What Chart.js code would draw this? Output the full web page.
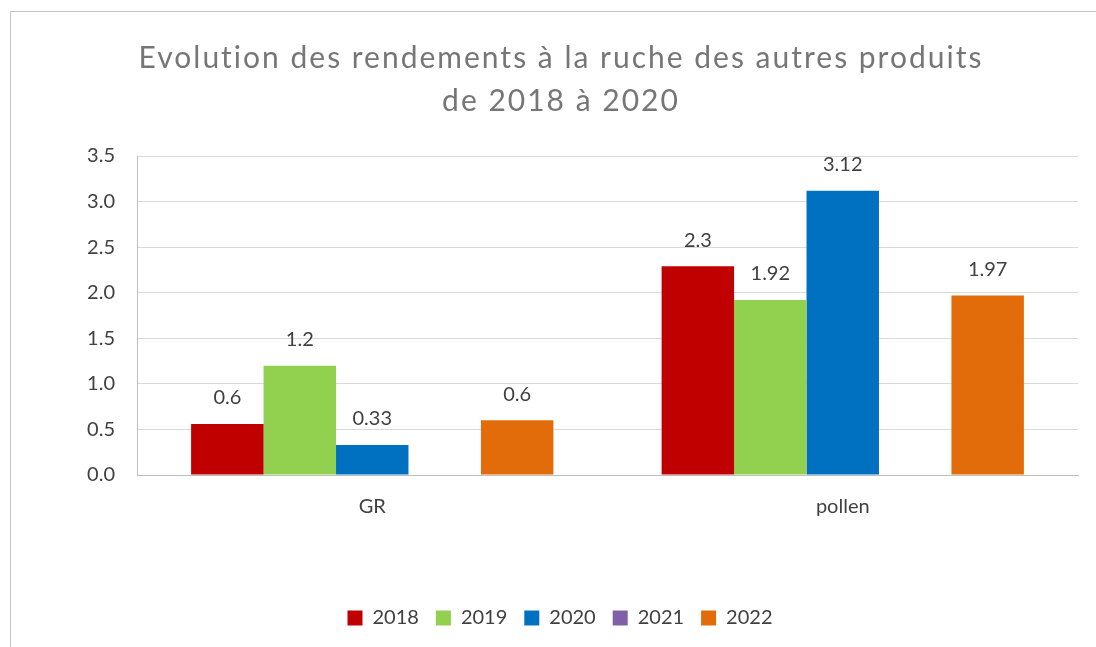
<!DOCTYPE html>
<html>
<head>
<meta charset="utf-8">
<script src="https://cdn.jsdelivr.net/npm/chart.js@4.4.1/dist/chart.umd.min.js"></script>
<style>
  html, body { margin: 0; padding: 0; background: #ffffff; }
  #frame { position: absolute; left: 10px; top: 11px; width: 1100px; height: 650px;
           border-left: 1px solid #c4c4c4; border-top: 1px solid #c4c4c4; }
  #c { position: absolute; left: 0; top: 0; }
</style>
</head>
<body>
<div id="frame"></div>
<canvas id="c" width="1096" height="647"></canvas>
<script>
const titleLines = ["Evolution des rendements à la ruche des autres produits", "de 2018 à 2020"];
const categories = ["GR", "pollen"];
const seriesNames = ["2018", "2019", "2020", "2021", "2022"];
const values2018 = [0.56, 2.29];
const values2019 = [1.2, 1.92];
const values2020 = [0.33, 3.12];
const values2021 = [null, null];
const values2022 = [0.6, 1.97];
const labelDecimals = [1, null, null, null, null];
const yTicks = [0, 0.5, 1.0, 1.5, 2.0, 2.5, 3.0, 3.5];
const seriesColors = ["#C00000", "#92D050", "#0070C0", "#7F5FA7", "#E36C0A"];

const FONT = "Lato, 'Open Sans', sans-serif";
const TXT = "#404040";

const allValues = [values2018, values2019, values2020, values2021, values2022];

const datasets = seriesNames.map((name, i) => ({
  label: name,
  data: allValues[i],
  backgroundColor: seriesColors[i],
  borderWidth: 0,
  categoryPercentage: 0.77,
  barPercentage: 1.0
}));

const valueLabels = {
  id: 'valueLabels',
  afterDatasetsDraw(chart) {
    const ctx = chart.ctx;
    ctx.save();
    ctx.font = "20px " + FONT;
    ctx.fillStyle = TXT;
    ctx.textAlign = 'center';
    ctx.textBaseline = 'middle';
    chart.data.datasets.forEach((ds, di) => {
      const meta = chart.getDatasetMeta(di);
      meta.data.forEach((el, j) => {
        const v = ds.data[j];
        if (v === null || v === undefined) return;
        const txt = labelDecimals[di] !== null ? v.toFixed(labelDecimals[di]) : String(v);
        ctx.fillText(txt, el.x, el.y - 26);
      });
    });
    ctx.restore();
  }
};

const spacedTitle = {
  id: 'spacedTitle',
  afterDraw(chart) {
    const ctx = chart.ctx;
    ctx.save();
    ctx.font = "30px " + FONT;
    ctx.fillStyle = "#767676";
    ctx.textAlign = 'center';
    ctx.textBaseline = 'middle';
    if ('letterSpacing' in ctx) ctx.letterSpacing = '2px';
    titleLines.forEach((line, i) => ctx.fillText(line, 561, 58 + i * 43));
    ctx.restore();
  }
};

new Chart(document.getElementById('c'), {
  type: 'bar',
  data: { labels: categories, datasets },
  options: {
    responsive: false,
    devicePixelRatio: 1,
    animation: false,
    layout: { padding: { left: 42, right: 18, top: 156, bottom: 9 } },
    plugins: {
      title: { display: false },
      legend: {
        position: 'bottom',
        labels: {
          color: TXT,
          font: { family: FONT, size: 20 },
          boxWidth: 15,
          boxHeight: 15,
          padding: 17
        }
      },
      tooltip: { enabled: false }
    },
    scales: {
      x: {
        grid: { display: false, drawTicks: false },
        border: { display: true, color: "#bfbfbf", width: 1 },
        ticks: { color: TXT, font: { family: FONT, size: 20 }, padding: 20 },
        afterFit(scale) { scale.height = 116; }
      },
      y: {
        min: 0, max: 3.5,
        afterBuildTicks(scale) { scale.ticks = yTicks.map(v => ({ value: v })); },
        grid: { color: "#d9d9d9", drawTicks: false },
        border: { display: true, color: "#bfbfbf", width: 1 },
        ticks: { color: TXT, font: { family: FONT, size: 20 }, padding: 22,
                 callback: v => Number(v).toFixed(1) },
        afterFit(scale) { scale.width = 95; }
      }
    }
  },
  plugins: [valueLabels, spacedTitle]
});
</script>
</body>
</html>
